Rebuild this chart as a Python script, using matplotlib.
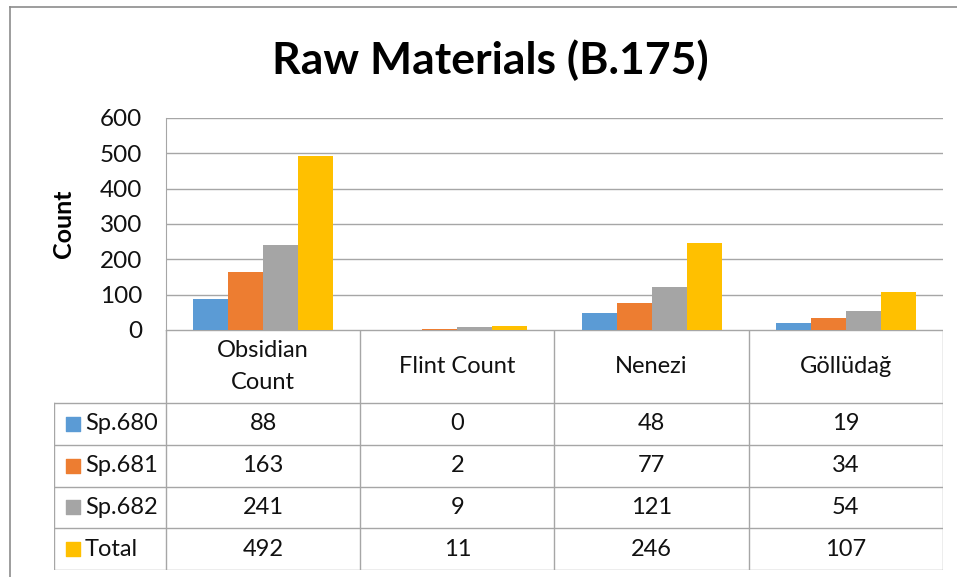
import matplotlib.pyplot as plt
from matplotlib.lines import Line2D

plt.rcParams['font.family'] = ['Lato', 'DejaVu Sans']

# data
categories = ['Obsidian\nCount', 'Flint Count', 'Nenezi', 'Göllüdağ']
series = ['Sp.680', 'Sp.681', 'Sp.682', 'Total']
sp680 = [88, 0, 48, 19]
sp681 = [163, 2, 77, 34]
sp682 = [241, 9, 121, 54]
total = [492, 11, 246, 107]
values = [sp680, sp681, sp682, total]
colors = ['#5B9BD5', '#ED7D31', '#A5A5A5', '#FFC000']
yticks = [0, 100, 200, 300, 400, 500, 600]

W, H = 957, 577
grid_c = '#A6A6A6'
txt_c = '#111111'
fig = plt.figure(figsize=(W / 100, H / 100), dpi=100)

def fx(px):
    return px / W

def fy(py):
    return 1 - py / H

# outer chart border (left and top visible)
fig.add_artist(Line2D([fx(9.5), fx(9.5)], [0, fy(6.5)], color='#8C8C8C', lw=1.2))
fig.add_artist(Line2D([fx(9.5), 1], [fy(6.5), fy(6.5)], color='#8C8C8C', lw=1.2))

fig.text(fx(490), fy(60), 'Raw Materials (B.175)', ha='center', va='center',
         fontsize=32, fontweight='bold', color='black')

# bar area
left, right, top, zero, bottom = 166, 943, 118, 330, 570
ax = fig.add_axes([fx(left), fy(zero), fx(right) - fx(left), fy(top) - fy(zero)])
n = len(categories)
bw = 0.18
for j, (vals, c) in enumerate(zip(values, colors)):
    xs = [i + 0.5 + (j - 1.5) * bw for i in range(n)]
    ax.bar(xs, vals, width=bw, color=c, zorder=3)
ax.set_xlim(0, n)
ax.set_ylim(0, 600)
ax.set_yticks(yticks)
ax.set_xticks([])
ax.grid(axis='y', color=grid_c, lw=1, zorder=0)
for s in ['top', 'right', 'bottom']:
    ax.spines[s].set_visible(False)
ax.spines['left'].set_color(grid_c)
ax.tick_params(axis='y', length=0, labelsize=17.5, pad=17, labelcolor=txt_c)
ax.set_ylabel('Count', fontsize=18, fontweight='bold', labelpad=18)

# data table
row_h = (bottom - 403) / 4
head_h = (403 - zero) / row_h
lab_w = (left - 54) / ((right - left) / n)
tab = fig.add_axes([fx(54), fy(bottom), fx(right) - fx(54), fy(zero) - fy(bottom)])
tab.set_xlim(-lab_w, n)
tab.set_ylim(0, 4 + head_h)
tab.axis('off')
lk = dict(color=grid_c, lw=1)
# horizontal lines
tab.plot([0, n], [4 + head_h, 4 + head_h], **lk)
for r in range(5):
    tab.plot([-lab_w, n], [r, r], **lk)
# vertical lines
tab.plot([-lab_w, -lab_w], [0, 4], **lk)
for i in range(n + 1):
    tab.plot([i, i], [0, 4 + head_h], **lk)

for i, cat in enumerate(categories):
    tab.text(i + 0.5, 4 + head_h / 2, cat, ha='center', va='center',
             fontsize=17, color=txt_c, linespacing=1.7)
for r, (name, vals, c) in enumerate(zip(series, values, colors)):
    yc = 3.5 - r
    tab.scatter([-lab_w + 0.1], [yc], marker='s', s=100, color=c)
    tab.text(-lab_w + 0.16, yc, name, ha='left', va='center', fontsize=17, color=txt_c)
    for i, v in enumerate(vals):
        tab.text(i + 0.5, yc, str(v), ha='center', va='center', fontsize=17, color=txt_c)

fig.savefig('out.png', dpi=100, facecolor='white')
